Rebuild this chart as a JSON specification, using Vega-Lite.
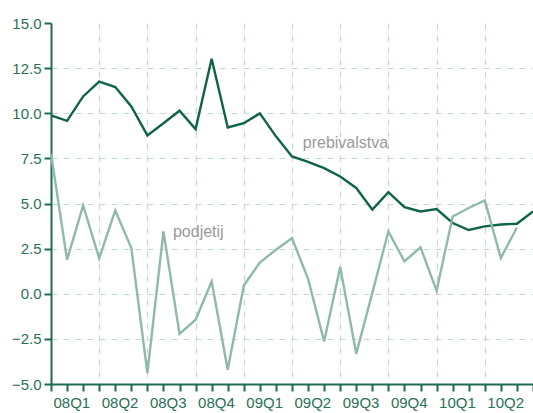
{
  "$schema": "https://vega.github.io/schema/vega-lite/v6.json",
  "autosize": {"type": "none"},
  "width": 482,
  "height": 361,
  "padding": {"left": 51, "top": 23, "right": 0, "bottom": 29},
  "background": "white",
  "config": {
    "view": {"stroke": null},
    "font": "Liberation Sans",
    "axis": {
      "domainColor": "#1f6b52",
      "domainWidth": 2,
      "tickColor": "#1f6b52",
      "tickWidth": 2,
      "tickSize": 7,
      "labelColor": "#2a7058",
      "labelFont": "Liberation Sans",
      "labelFontSize": 15,
      "gridColor": "#c3dad0",
      "gridDash": [6, 6],
      "gridWidth": 1.2,
      "title": null,
      "labelOverlap": false,
      "labelBound": false,
      "labelFlush": false
    }
  },
  "datasets": {
    "lines": [
      {"m": 0, "s": "prebivalstva", "v": 9.88},
      {"m": 1, "s": "prebivalstva", "v": 9.58},
      {"m": 2, "s": "prebivalstva", "v": 10.93},
      {"m": 3, "s": "prebivalstva", "v": 11.75},
      {"m": 4, "s": "prebivalstva", "v": 11.45},
      {"m": 5, "s": "prebivalstva", "v": 10.38},
      {"m": 6, "s": "prebivalstva", "v": 8.77},
      {"m": 7, "s": "prebivalstva", "v": 9.45},
      {"m": 8, "s": "prebivalstva", "v": 10.14},
      {"m": 9, "s": "prebivalstva", "v": 9.12},
      {"m": 10, "s": "prebivalstva", "v": 13.02},
      {"m": 11, "s": "prebivalstva", "v": 9.21},
      {"m": 12, "s": "prebivalstva", "v": 9.45},
      {"m": 13, "s": "prebivalstva", "v": 9.99},
      {"m": 14, "s": "prebivalstva", "v": 8.72},
      {"m": 15, "s": "prebivalstva", "v": 7.61},
      {"m": 16, "s": "prebivalstva", "v": 7.3},
      {"m": 17, "s": "prebivalstva", "v": 6.96},
      {"m": 18, "s": "prebivalstva", "v": 6.5},
      {"m": 19, "s": "prebivalstva", "v": 5.86},
      {"m": 20, "s": "prebivalstva", "v": 4.66},
      {"m": 21, "s": "prebivalstva", "v": 5.63},
      {"m": 22, "s": "prebivalstva", "v": 4.8},
      {"m": 23, "s": "prebivalstva", "v": 4.56},
      {"m": 24, "s": "prebivalstva", "v": 4.69},
      {"m": 25, "s": "prebivalstva", "v": 3.92},
      {"m": 26, "s": "prebivalstva", "v": 3.53},
      {"m": 27, "s": "prebivalstva", "v": 3.73},
      {"m": 28, "s": "prebivalstva", "v": 3.84},
      {"m": 29, "s": "prebivalstva", "v": 3.88},
      {"m": 30, "s": "prebivalstva", "v": 4.56},
      {"m": 0, "s": "podjetij", "v": 7.76},
      {"m": 1, "s": "podjetij", "v": 1.88},
      {"m": 2, "s": "podjetij", "v": 4.89},
      {"m": 3, "s": "podjetij", "v": 1.96},
      {"m": 4, "s": "podjetij", "v": 4.62},
      {"m": 5, "s": "podjetij", "v": 2.53},
      {"m": 6, "s": "podjetij", "v": -4.4},
      {"m": 7, "s": "podjetij", "v": 3.45},
      {"m": 8, "s": "podjetij", "v": -2.22},
      {"m": 9, "s": "podjetij", "v": -1.44},
      {"m": 10, "s": "podjetij", "v": 0.68},
      {"m": 11, "s": "podjetij", "v": -4.21},
      {"m": 12, "s": "podjetij", "v": 0.46},
      {"m": 13, "s": "podjetij", "v": 1.73},
      {"m": 14, "s": "podjetij", "v": 2.44},
      {"m": 15, "s": "podjetij", "v": 3.08},
      {"m": 16, "s": "podjetij", "v": 0.83},
      {"m": 17, "s": "podjetij", "v": -2.64},
      {"m": 18, "s": "podjetij", "v": 1.48},
      {"m": 19, "s": "podjetij", "v": -3.32},
      {"m": 20, "s": "podjetij", "v": 0.05},
      {"m": 21, "s": "podjetij", "v": 3.45},
      {"m": 22, "s": "podjetij", "v": 1.79},
      {"m": 23, "s": "podjetij", "v": 2.57},
      {"m": 24, "s": "podjetij", "v": 0.17},
      {"m": 25, "s": "podjetij", "v": 4.28},
      {"m": 26, "s": "podjetij", "v": 4.75},
      {"m": 27, "s": "podjetij", "v": 5.17},
      {"m": 28, "s": "podjetij", "v": 1.98},
      {"m": 29, "s": "podjetij", "v": 3.67}
    ],
    "labels": [
      {"m": 15.67, "v": 8.09, "t": "prebivalstva"},
      {"m": 7.59, "v": 3.16, "t": "podjetij"}
    ]
  },
  "layer": [
    {
      "data": {"name": "lines"},
      "mark": {"type": "line", "strokeWidth": 2.4, "strokeJoin": "miter", "clip": false},
      "encoding": {
        "x": {
          "field": "m",
          "type": "quantitative",
          "scale": {"domain": [0, 30], "nice": false, "zero": false},
          "axis": {
            "values": [0,1,2,3,4,5,6,7,8,9,10,11,12,13,14,15,16,17,18,19,20,21,22,23,24,25,26,27,28,29,30],
            "tickCount": 100,
            "labelExpr": "datum.value % 3 == 0 && datum.value < 30 ? ['08Q1','08Q2','08Q3','08Q4','09Q1','09Q2','09Q3','09Q4','10Q1','10Q2'][datum.value / 3] : ''",
            "labelAlign": "left",
            "labelOffset": 2,
            "labelPadding": 4,
            "grid": true,
            "gridOpacity": {"condition": {"test": "datum.value % 3 == 0 && datum.value > 0 && datum.value < 30", "value": 1}, "value": 0}
          }
        },
        "y": {
          "field": "v",
          "type": "quantitative",
          "scale": {"domain": [-5, 15], "nice": false, "zero": false},
          "axis": {
            "values": [-5, -2.5, 0, 2.5, 5, 7.5, 10, 12.5, 15],
            "tickCount": 100,
            "format": ".1f",
            "labelPadding": 3,
            "grid": true,
            "gridOpacity": {"condition": {"test": "datum.value > -5 && datum.value < 15", "value": 1}, "value": 0}
          }
        },
        "color": {
          "field": "s",
          "type": "nominal",
          "scale": {"domain": ["prebivalstva", "podjetij"], "range": ["#0f6447", "#8fbaa9"]},
          "legend": null
        }
      }
    },
    {
      "data": {"name": "labels"},
      "mark": {"type": "text", "align": "left", "baseline": "alphabetic", "fontSize": 16, "font": "Liberation Sans", "color": "#9a9a9a"},
      "encoding": {
        "x": {"field": "m", "type": "quantitative"},
        "y": {"field": "v", "type": "quantitative"},
        "text": {"field": "t"}
      }
    }
  ]
}
